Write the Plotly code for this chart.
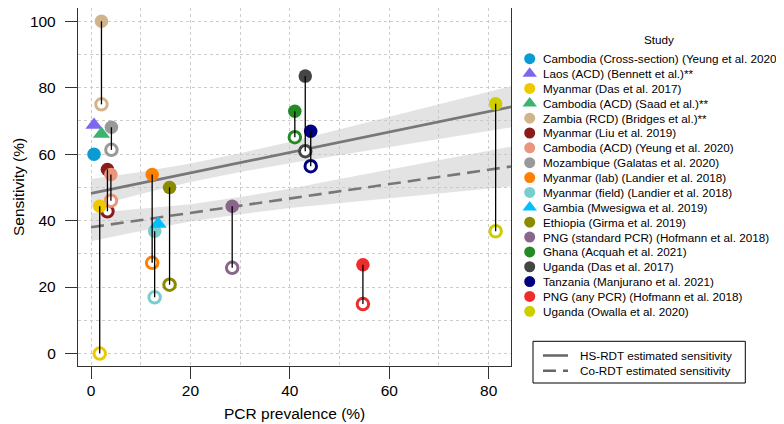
import plotly.graph_objects as go

# Study names, colours and marker shapes
studies = [
    "Cambodia (Cross-section) (Yeung et al. 2020)",
    "Laos (ACD) (Bennett et al.)**",
    "Myanmar (Das et al. 2017)",
    "Cambodia (ACD) (Saad et al.)**",
    "Zambia (RCD) (Bridges et al.)**",
    "Myanmar (Liu et al. 2019)",
    "Cambodia (ACD) (Yeung et al. 2020)",
    "Mozambique (Galatas et al. 2020)",
    "Myanmar (lab) (Landier et al. 2018)",
    "Myanmar (field) (Landier et al. 2018)",
    "Gambia (Mwesigwa et al. 2019)",
    "Ethiopia (Girma et al. 2019)",
    "PNG (standard PCR) (Hofmann et al. 2018)",
    "Ghana (Acquah et al. 2021)",
    "Uganda (Das et al. 2017)",
    "Tanzania (Manjurano et al. 2021)",
    "PNG (any PCR) (Hofmann et al. 2018)",
    "Uganda (Owalla et al. 2020)",
]
colours = [
    "#0a9bd2", "#7b68ee", "#eec900", "#3cb371", "#d2b48c", "#8b1a1a",
    "#e9967a", "#999999", "#ff7f00", "#79cdcd", "#00bfff", "#8b8b00",
    "#8b668b", "#228b22", "#454545", "#000080", "#ee2c2c", "#cdcd00",
]
symbols = [
    "circle", "triangle-up", "circle", "triangle-up", "circle", "circle",
    "circle", "circle", "circle", "circle", "triangle-up", "circle",
    "circle", "circle", "circle", "circle", "circle", "circle",
]

# PCR prevalence and sensitivities (HS-RDT filled, co-RDT open)
pcr_prev = [0.6, 0.6, 1.75, 2.1, 2.1, 3.3, 4.0, 4.1, 12.3, 12.8, 13.5, 15.8,
            28.4, 41.0, 43.1, 44.2, 54.7, 81.4]
hs_sens = [60.0, 68.8, 44.3, 66.1, 100.0, 55.4, 53.9, 68.1, 53.9, 36.8, 39.0,
           50.0, 44.3, 72.9, 83.5, 66.9, 26.7, 75.2]
co_sens = [None, None, 0.0, None, 75.0, 42.8, 46.0, 61.3, 27.3, 16.9, None,
           20.7, 25.8, 65.1, 60.9, 56.4, 14.9, 36.8]

# fitted lines and confidence bands
fit_x = [0, 85]
hs_fit = [48.2, 74.4]
co_fit = [38.0, 56.4]
band_x = [0, 10, 20, 30, 40, 50, 60, 70, 85]
hs_lo = [44.0, 48.0, 51.6, 54.6, 57.3, 59.8, 62.2, 64.6, 68.2]
hs_hi = [52.5, 54.6, 57.2, 60.3, 63.7, 67.4, 71.2, 75.0, 80.6]
co_lo = [33.8, 36.9, 39.7, 41.9, 43.8, 45.3, 46.7, 48.2, 50.4]
co_hi = [42.2, 43.5, 44.9, 47.1, 49.6, 52.5, 55.3, 58.2, 62.4]

W, H = 784, 424
FONT = "Liberation Sans, Arial, sans-serif"
LEG_SIZE = 11.7


def px(x):
    return x / W


def py(y):
    return 1 - y / H


fig = go.Figure()

# confidence bands
for lo, hi in [(hs_lo, hs_hi), (co_lo, co_hi)]:
    fig.add_trace(go.Scatter(
        x=band_x + band_x[::-1], y=hi + lo[::-1], mode="lines", fill="toself",
        fillcolor="rgba(200,200,200,0.5)", line=dict(width=0),
        hoverinfo="skip", showlegend=False))

# fitted lines
fig.add_trace(go.Scatter(x=fit_x, y=hs_fit, mode="lines",
                         line=dict(color="#777777", width=2.6), showlegend=False))
fig.add_trace(go.Scatter(x=fit_x, y=co_fit, mode="lines",
                         line=dict(color="#777777", width=2.6, dash="13px,7px"),
                         showlegend=False))

# open rings (co-RDT)
ring_idx = [i for i, v in enumerate(co_sens) if v is not None]
fig.add_trace(go.Scatter(
    x=[pcr_prev[i] for i in ring_idx], y=[co_sens[i] for i in ring_idx],
    mode="markers",
    marker=dict(symbol="circle", size=11.5, color="white", opacity=1,
                line=dict(color=[colours[i] for i in ring_idx], width=3)),
    showlegend=False))

# filled markers (HS-RDT)
fig.add_trace(go.Scatter(
    x=pcr_prev, y=hs_sens, mode="markers",
    marker=dict(symbol=symbols, color=colours, opacity=1,
                size=[15 if s == "triangle-up" else 13.5 for s in symbols],
                line=dict(width=0)),
    showlegend=False))

# connecting segments
seg_x, seg_y = [], []
for i in ring_idx:
    seg_x += [pcr_prev[i], pcr_prev[i], None]
    seg_y += [hs_sens[i], co_sens[i], None]
fig.add_trace(go.Scatter(x=seg_x, y=seg_y, mode="lines",
                         line=dict(color="black", width=1.3), showlegend=False))

# study legend drawn on a pixel overlay axis
leg_y0, leg_step = 50.7, 14.86
fig.add_trace(go.Scatter(
    x=[521.7] * len(studies), y=[leg_y0 + i * leg_step for i in range(len(studies))],
    xaxis="x2", yaxis="y2", mode="markers",
    marker=dict(symbol=symbols, color=colours, opacity=1,
                size=[12.5 if s == "triangle-up" else 11 for s in symbols],
                line=dict(width=0)),
    showlegend=False, hoverinfo="skip"))

annotations = []
annotations.append(dict(text="Study", x=px(650.5), y=py(31.7), xref="paper", yref="paper",
                        showarrow=False, xanchor="center", yanchor="middle",
                        font=dict(family=FONT, size=LEG_SIZE, color="black")))
for i, name in enumerate(studies):
    annotations.append(dict(text=name, x=px(532.5), y=py(leg_y0 + i * leg_step),
                            xref="paper", yref="paper", showarrow=False,
                            xanchor="left", yanchor="middle",
                            font=dict(family=FONT, size=LEG_SIZE, color="black")))

# line legend box
shapes = [
    dict(type="rect", xref="paper", yref="paper", x0=px(525), x1=px(737.3),
         y0=py(333.3), y1=py(375), line=dict(color="black", width=1)),
    dict(type="line", xref="paper", yref="paper", x0=px(535), x1=px(560),
         y0=py(347.5), y1=py(347.5), line=dict(color="#666666", width=2.5)),
    dict(type="line", xref="paper", yref="paper", x0=px(535), x1=px(560),
         y0=py(362.7), y1=py(362.7), line=dict(color="#666666", width=2.5, dash="13px,7px")),
]
for yy, txt in [(347.5, "HS-RDT estimated sensitivity"), (362.7, "Co-RDT estimated sensitivity")]:
    annotations.append(dict(text=txt, x=px(569.5), y=py(yy), xref="paper", yref="paper",
                            showarrow=False, xanchor="left", yanchor="middle",
                            font=dict(family=FONT, size=LEG_SIZE, color="black")))

# axis titles
annotations.append(dict(text="PCR prevalence (%)", x=px(286.5), y=py(405), xref="paper",
                        yref="paper", showarrow=False, xanchor="center", yanchor="middle",
                        font=dict(family=FONT, size=15.5, color="black")))
annotations.append(dict(text="Sensitivity (%)", x=px(10), y=py(179), xref="paper",
                        yref="paper", showarrow=False, xanchor="center", yanchor="middle",
                        textangle=-90, font=dict(family=FONT, size=15.5, color="black")))

axis_common = dict(
    showline=True, mirror=True, linecolor="#333333", linewidth=1.3,
    ticks="outside", ticklen=12, tickwidth=1.3, tickcolor="#333333",
    tickfont=dict(family=FONT, size=15.5, color="black"),
    showgrid=True, gridcolor="#cccccc", griddash="dot", gridwidth=1,
    zeroline=False, dtick=20, tick0=0,
    minor=dict(dtick=10, showgrid=True, gridcolor="#cccccc", griddash="dot",
               ticklen=0),
)

fig.update_layout(
    width=W, height=H,
    margin=dict(l=0, r=0, t=0, b=0),
    paper_bgcolor="white", plot_bgcolor="rgba(0,0,0,0)",
    showlegend=False,
    xaxis=dict(domain=[px(70), px(503)], range=[-2.62, 84.49],
               ticklabelstandoff=-2, **axis_common),
    yaxis=dict(domain=[py(358), 1], range=[-3.76, 104.0],
               ticklabelstandoff=6, **axis_common),
    xaxis2=dict(domain=[0, 1], range=[0, W], visible=False, anchor="y2", fixedrange=True),
    yaxis2=dict(domain=[0, 1], range=[H, 0], visible=False, anchor="x2", fixedrange=True),
    annotations=annotations,
    shapes=shapes,
)

fig.write_html("out.html")
